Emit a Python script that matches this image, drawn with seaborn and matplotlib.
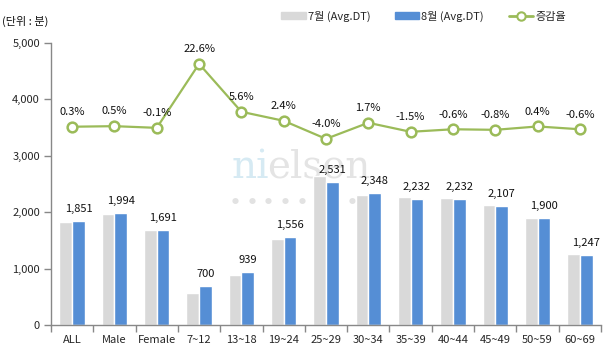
import numpy as np
import pandas as pd
import seaborn as sns
import matplotlib.pyplot as plt
from matplotlib.lines import Line2D
from matplotlib.patches import Patch
from matplotlib.ticker import FuncFormatter, FixedLocator

# data
categories = ['ALL', 'Male', 'Female', '7~12', '13~18', '19~24', '25~29',
              '30~34', '35~39', '40~44', '45~49', '50~59', '60~69']
jul = [1830, 1975, 1693, 560, 880, 1518, 2636, 2305, 2266, 2245, 2124, 1892, 1254]
aug = [1851, 1994, 1691, 700, 939, 1556, 2531, 2348, 2232, 2232, 2107, 1900, 1247]
change = [0.3, 0.5, -0.1, 22.6, 5.6, 2.4, -4.0, 1.7, -1.5, -0.6, -0.8, 0.4, -0.6]
series = ['7월 (Avg.DT)', '8월 (Avg.DT)']
line_name = '증감율'

gray = '#D9D9D9'
blue = '#558ED5'
green = '#9BBB59'

sns.set_style('white')
plt.rcParams['font.family'] = ['Noto Sans CJK KR', 'DejaVu Sans']
plt.rcParams['font.size'] = 8

df = pd.DataFrame({
    'cat': categories * 2,
    'month': [series[0]] * len(categories) + [series[1]] * len(categories),
    'value': jul + aug,
})

fig = plt.figure(figsize=(6.05, 3.61), dpi=100)
ax = fig.add_axes([0.0843, 0.0997, 0.9091, 0.7813])
ax.set_facecolor('none')

sns.barplot(data=df, x='cat', y='value', hue='month', order=categories,
            hue_order=series, palette=[gray, blue], width=0.6, gap=0,
            ax=ax, legend=False, saturation=1)

ax.bar_label(ax.containers[1], labels=['{:,}'.format(v) for v in aug],
             padding=5, fontsize=8, color='#111111')

ax.set_ylim(0, 5000)
ax.set_xlim(-0.5, len(categories) - 0.5)
ax.set_yticks(range(0, 5001, 1000))
ax.yaxis.set_major_formatter(FuncFormatter(lambda v, p: '{:,}'.format(int(v))))
ax.set_xlabel('')
ax.set_ylabel('')
for s in ['top', 'right']:
    ax.spines[s].set_visible(False)
for s in ['left', 'bottom']:
    ax.spines[s].set_color('#888888')
    ax.spines[s].set_linewidth(1)
ax.tick_params(axis='y', left=True, length=5, color='#888888', width=1,
               labelsize=8, pad=3)
ax.tick_params(axis='x', which='major', length=0, labelsize=8, pad=7)
ax.xaxis.set_minor_locator(FixedLocator(np.arange(-0.5, len(categories), 1)))
ax.tick_params(axis='x', which='minor', bottom=True, length=5,
               color='#888888', width=1)

# change rate on a hidden secondary scale
ax2 = ax.twinx()
x = np.arange(len(categories))
sns.lineplot(x=x, y=change, ax=ax2, color=green, linewidth=1.6, marker='o',
             markersize=7, markerfacecolor='white', markeredgecolor=green,
             markeredgewidth=1.8)
ax2.set_ylim(-70, 30)
ax2.set_xlim(-0.5, len(categories) - 0.5)
ax2.axis('off')
for xi, c in zip(x, change):
    ax2.annotate('{:.1f}%'.format(c), (xi, c), xytext=(0, 7),
                 textcoords='offset points', ha='center', va='bottom',
                 fontsize=8, color='#111111')

# watermark, behind the bars
fig.text(0.383, 0.507, 'ni', fontsize=28, family='DejaVu Serif',
         color='#D6EAF3', ha='left', va='baseline', zorder=-1)
fig.text(0.441, 0.507, 'elsen', fontsize=28, family='DejaVu Serif',
         color='#E4E4E4', ha='left', va='baseline', zorder=-1)
for i in range(9):
    fig.text((235 + i * 16.7) / 605, 1 - 201.5 / 361, '\u25cf', fontsize=5,
             color='#E2E2E2', ha='center', va='center', zorder=-1)

fig.text(0.004, 0.94, '(단위 : 분)', fontsize=8, color='#111111',
         ha='left', va='center')

handles = [Patch(color=gray), Patch(color=blue),
           Line2D([], [], color=green, linewidth=2, marker='o', markersize=6,
                  markerfacecolor='white', markeredgecolor=green,
                  markeredgewidth=1.5)]
fig.legend(handles, series + [line_name], loc='center', ncol=3,
           bbox_to_anchor=(0.70, 0.955), frameon=False, fontsize=8,
           handlelength=2.2, handleheight=0.6, handletextpad=0.2,
           columnspacing=2.2)

fig.savefig('out.png', dpi=100)
